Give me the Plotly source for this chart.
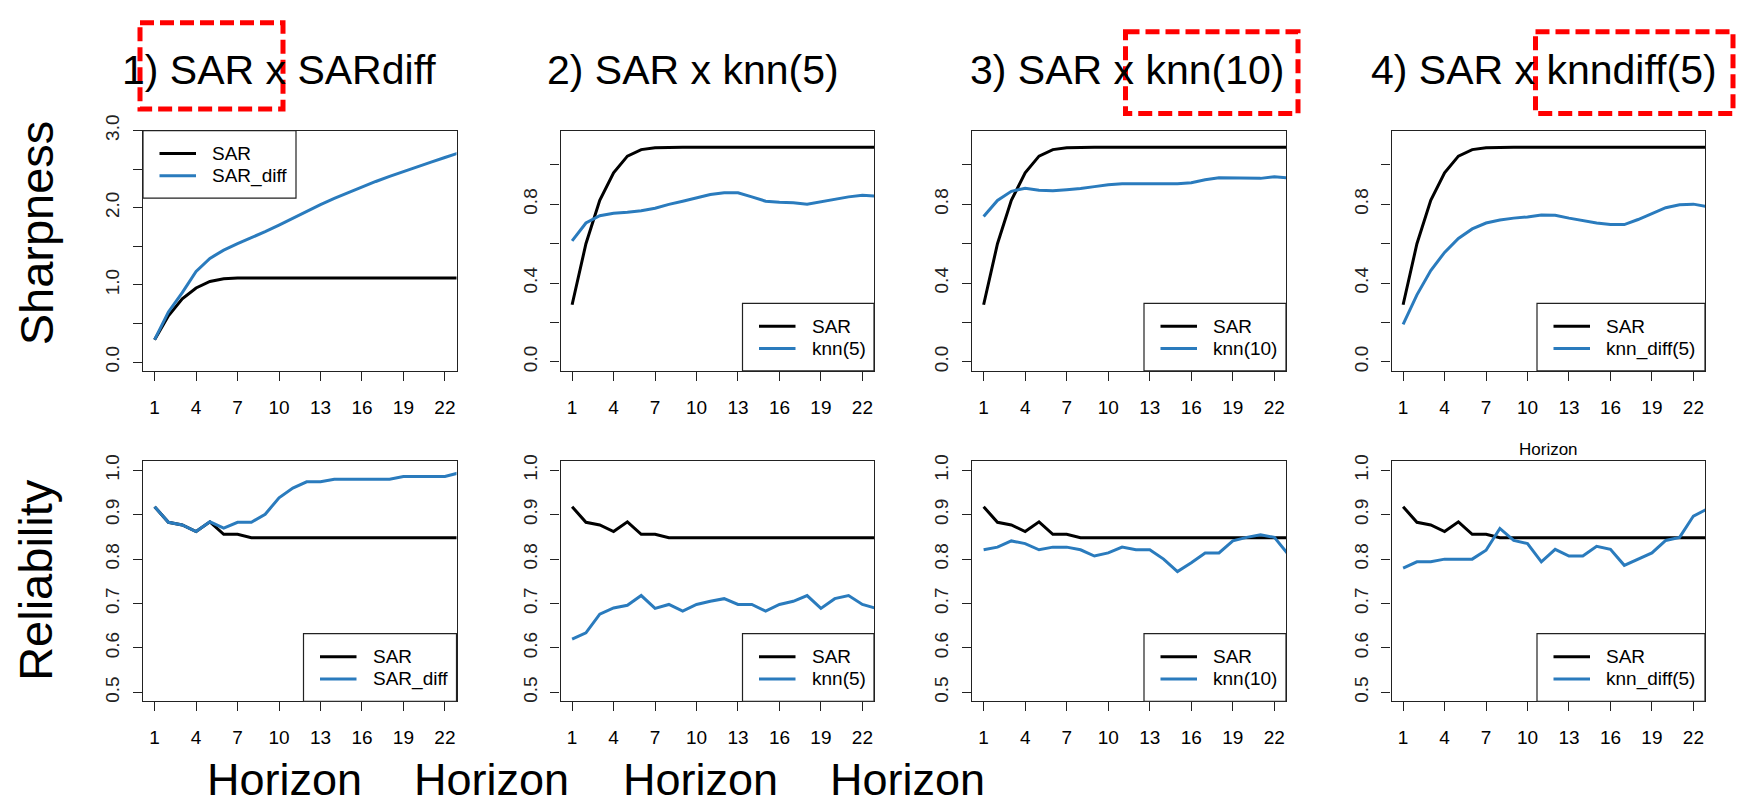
import plotly.graph_objects as go

# ---------------- data ----------------
horizon = list(range(1, 24))
x_ticks = [1, 4, 7, 10, 13, 16, 19, 22]

sar_sharp = [0.29, 0.60, 0.82, 0.96, 1.045, 1.078, 1.088, 1.09, 1.09, 1.09, 1.09, 1.09,
             1.09, 1.09, 1.09, 1.09, 1.09, 1.09, 1.09, 1.09, 1.09, 1.09, 1.09]
sar_diff_sharp = [0.29, 0.65, 0.90, 1.175, 1.344, 1.45, 1.534, 1.61, 1.69, 1.775, 1.865, 1.955,
                  2.04, 2.12, 2.195, 2.27, 2.34, 2.405, 2.47, 2.53, 2.59, 2.65, 2.71]
knn5_sharp = [0.614, 0.705, 0.742, 0.755, 0.76, 0.767, 0.78, 0.80, 0.816, 0.834, 0.85, 0.859,
              0.859, 0.838, 0.816, 0.811, 0.808, 0.801, 0.813, 0.826, 0.838, 0.846, 0.842]
knn10_sharp = [0.738, 0.82, 0.866, 0.882, 0.872, 0.869, 0.874, 0.88, 0.89, 0.90, 0.905, 0.905,
               0.902, 0.904, 0.905, 0.91, 0.925, 0.935, 0.934, 0.93, 0.932, 0.94, 0.934]
knndiff5_sharp = [0.19, 0.34, 0.464, 0.556, 0.627, 0.675, 0.705, 0.72, 0.73, 0.736, 0.746, 0.745,
                  0.73, 0.716, 0.705, 0.697, 0.697, 0.723, 0.755, 0.783, 0.798, 0.801, 0.788]

sar_rel = [0.918, 0.883, 0.877, 0.862, 0.884, 0.856, 0.856, 0.848, 0.848, 0.848, 0.848, 0.848,
           0.848, 0.848, 0.848, 0.848, 0.848, 0.848, 0.848, 0.848, 0.848, 0.848, 0.848]
sar_diff_rel = [0.918, 0.883, 0.877, 0.862, 0.884, 0.87, 0.883, 0.883, 0.901, 0.938, 0.96, 0.974,
                0.974, 0.98, 0.98, 0.98, 0.98, 0.98, 0.986, 0.986, 0.986, 0.986, 0.994]
knn5_rel = [0.62, 0.634, 0.676, 0.69, 0.696, 0.718, 0.689, 0.698, 0.683, 0.698, 0.705, 0.711,
            0.698, 0.698, 0.683, 0.698, 0.705, 0.718, 0.689, 0.711, 0.718, 0.698, 0.689]
knn10_rel = [0.821, 0.827, 0.841, 0.835, 0.821, 0.827, 0.827, 0.821, 0.807, 0.814, 0.827, 0.821,
             0.821, 0.80, 0.772, 0.792, 0.814, 0.814, 0.841, 0.849, 0.855, 0.849, 0.811]
knndiff5_rel = [0.78, 0.794, 0.794, 0.80, 0.80, 0.80, 0.82, 0.869, 0.842, 0.835, 0.794, 0.822,
                0.807, 0.807, 0.829, 0.822, 0.786, 0.80, 0.814, 0.842, 0.849, 0.897, 0.913]

titles = ["1) SAR x SARdiff", "2) SAR x knn(5)", "3) SAR x knn(10)", "4) SAR x knndiff(5)"]
series_names = ["SAR_diff", "knn(5)", "knn(10)", "knn_diff(5)"]
row_labels = ["Sharpness", "Reliability"]

# ---------------- layout helpers ----------------
W, H = 1737, 807
FONT = "Liberation Sans, Arial, sans-serif"
BLUE = "#2a7bbd"
AXC = "#222222"

cols = [(143, 456.5), (560.5, 874), (972, 1286), (1391.5, 1705)]
rows = [(117, 362.5), (455, 700)]


def px(x):
    return x / W


def py(y):
    return 1 - y / H


fig = go.Figure()
layout = dict(width=W, height=H, margin=dict(l=0, r=0, t=0, b=0),
              paper_bgcolor="white", plot_bgcolor="white", showlegend=False,
              font=dict(family=FONT, color="black"))
shapes = []
annotations = []

top_sets = [sar_diff_sharp, knn5_sharp, knn10_sharp, knndiff5_sharp]
bot_sets = [sar_diff_rel, knn5_rel, knn10_rel, knndiff5_rel]
leg_w_top = [153, 131.5, 142, 168]
leg_w_bot = [153, 131.5, 142, 168]


def add_legend(x0, y0, x1, y1, name):
    shapes.append(dict(type="rect", xref="paper", yref="paper", x0=px(x0), x1=px(x1),
                       y0=py(y0), y1=py(y1), line=dict(color=AXC, width=1.2),
                       fillcolor="white", layer="above"))
    for k, (lab, col) in enumerate([("SAR", "black"), (name, BLUE)]):
        yy = y0 + 23.5 + k * 22.7
        shapes.append(dict(type="line", xref="paper", yref="paper", x0=px(x0 + 16.5),
                           x1=px(x0 + 53), y0=py(yy), y1=py(yy),
                           line=dict(color=col, width=3), layer="above"))
        annotations.append(dict(text=lab, xref="paper", yref="paper", x=px(x0 + 67),
                                y=py(yy), xanchor="left", yanchor="middle", showarrow=False,
                                font=dict(size=19, family=FONT, color="black")))


for r in range(2):
    for c in range(4):
        n = r * 4 + c + 1
        sfx = "" if n == 1 else str(n)
        xa, ya = "x" + sfx, "y" + sfx
        L, R = cols[c]
        T, B = rows[r]
        if r == 0:
            a, b = sar_sharp, top_sets[c]
        else:
            a, b = sar_rel, bot_sets[c]
        fig.add_trace(go.Scatter(x=horizon, y=a, xaxis=xa, yaxis=ya, mode="lines",
                                 line=dict(color="black", width=3), hoverinfo="skip"))
        fig.add_trace(go.Scatter(x=horizon, y=b, xaxis=xa, yaxis=ya, mode="lines",
                                 line=dict(color=BLUE, width=3), hoverinfo="skip"))

        if r == 0 and c == 0:
            yv = [0, 0.5, 1.0, 1.5, 2.0, 2.5, 3.0]
            yt = ["0.0", "", "1.0", "", "2.0", "", "3.0"]
            yr = [-0.114, 3.0]
        elif r == 0:
            yv = [0, 0.2, 0.4, 0.6, 0.8, 1.0]
            yt = ["0.0", "", "0.4", "", "0.8", ""]
            yr = [-0.046, 1.175]
        else:
            yv = [0.5, 0.6, 0.7, 0.8, 0.9, 1.0]
            yt = ["0.5", "0.6", "0.7", "0.8", "0.9", "1.0"]
            yr = [0.48, 1.02]

        layout["xaxis" + sfx] = dict(domain=[px(L), px(R)], anchor=ya, range=[0.16, 22.84],
                                     tickvals=x_ticks, ticktext=[str(v) for v in x_ticks],
                                     showline=True, mirror=True, linecolor=AXC, linewidth=1.2,
                                     ticks="outside", ticklen=9, tickcolor=AXC, tickwidth=1.2,
                                     showgrid=False, zeroline=False, ticklabelstandoff=10,
                                     tickfont=dict(size=19, family=FONT, color="black"))
        layout["yaxis" + sfx] = dict(domain=[py(B), py(T)], anchor=xa, range=yr,
                                     tickvals=yv, ticktext=yt, tickangle=-90,
                                     showline=True, mirror=True, linecolor=AXC, linewidth=1.2,
                                     ticks="outside", ticklen=9, tickcolor=AXC, tickwidth=1.2,
                                     showgrid=False, zeroline=False, ticklabelstandoff=6,
                                     tickfont=dict(size=19, family=FONT, color="#222"))

        # legends
        if r == 0 and c == 0:
            add_legend(L, T, L + leg_w_top[c], T + 69, series_names[c])
        elif r == 0:
            add_legend(R - leg_w_top[c], B - 69, R, B, series_names[c])
        else:
            add_legend(R - leg_w_bot[c], B - 69, R, B, series_names[c])

# column titles
title_cx = [279, 693, 1127, 1544]
for t, cx in zip(titles, title_cx):
    annotations.append(dict(text=t, xref="paper", yref="paper", x=px(cx), y=py(55),
                            xanchor="center", yanchor="middle", showarrow=False,
                            font=dict(size=41, family=FONT, color="black")))

# row labels
for lab, cy in zip(row_labels, [222, 576]):
    annotations.append(dict(text=lab, xref="paper", yref="paper", x=px(36), y=py(cy),
                            xanchor="center", yanchor="middle", showarrow=False, textangle=-90,
                            font=dict(size=47, family=FONT, color="black")))

# bottom Horizon labels
for cx in [284, 491, 700, 907]:
    annotations.append(dict(text="Horizon", xref="paper", yref="paper", x=px(cx), y=0.0,
                            xanchor="center", yanchor="bottom", showarrow=False, borderpad=0,
                            font=dict(size=45, family=FONT, color="black")))

# small Horizon label above last reliability panel
annotations.append(dict(text="Horizon", xref="paper", yref="paper", x=px(1548), y=py(443),
                        xanchor="center", yanchor="middle", showarrow=False,
                        font=dict(size=17, family=FONT, color="black")))

# red dashed highlight boxes
for (x0, y0, x1, y1) in [(140, 7, 283, 95), (1125.5, 16, 1298, 99.5), (1535.5, 16, 1733, 99.5)]:
    shapes.append(dict(type="rect", xref="paper", yref="paper", x0=px(x0), x1=px(x1),
                       y0=py(y0), y1=py(y1), line=dict(color="#ff0000", width=5, dash="14px,6px"),
                       fillcolor="rgba(0,0,0,0)", layer="above"))

layout["shapes"] = shapes
layout["annotations"] = annotations
fig.update_layout(**layout)
fig.write_html("out.html")
